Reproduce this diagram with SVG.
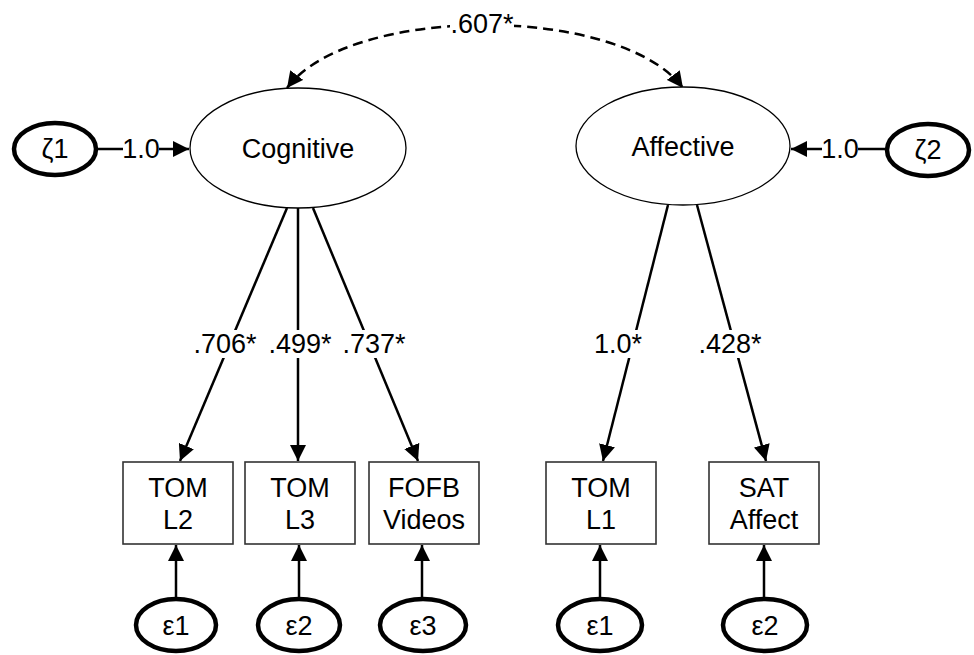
<svg xmlns="http://www.w3.org/2000/svg" width="974" height="655" viewBox="0 0 974 655">
<style>
text{font-family:"Liberation Sans",Arial,sans-serif;font-size:27px;fill:#000;text-anchor:middle}
.lat{fill:#fff;stroke:#000;stroke-width:1.3}
.err{fill:#fff;stroke:#000;stroke-width:4.5}
.box{fill:#fff;stroke:#333;stroke-width:1.6}
.edge{fill:none;stroke:#000;stroke-width:2.5}
.dash{fill:none;stroke:#000;stroke-width:2.5;stroke-dasharray:10 6}
.bg{fill:#fff;stroke:none}
</style>
<defs>
<marker id="ah" viewBox="0 0 10 10" refX="10" refY="5" markerWidth="6.5" markerHeight="6.5" orient="auto-start-reverse" markerUnits="strokeWidth">
<path d="M0,0 L10,5 L0,10 z" fill="#000"/>
</marker>
</defs>
<rect width="974" height="655" fill="#fff"/>
<g id="connectors">
<path class="dash" d="M287,88 C350,4 620,4 683,88" marker-start="url(#ah)" marker-end="url(#ah)"/>
<line class="edge" x1="97" y1="149" x2="189" y2="149" marker-end="url(#ah)"/>
<line class="edge" x1="886" y1="149" x2="791" y2="149" marker-end="url(#ah)"/>
<line class="edge" x1="287" y1="208" x2="180" y2="461" marker-end="url(#ah)"/>
<line class="edge" x1="298" y1="208" x2="298" y2="461" marker-end="url(#ah)"/>
<line class="edge" x1="313" y1="208" x2="418" y2="461" marker-end="url(#ah)"/>
<line class="edge" x1="668" y1="205" x2="603" y2="461" marker-end="url(#ah)"/>
<line class="edge" x1="697" y1="205" x2="766" y2="461" marker-end="url(#ah)"/>
<line class="edge" x1="176" y1="598" x2="176" y2="545" marker-end="url(#ah)"/>
<line class="edge" x1="299" y1="598" x2="299" y2="545" marker-end="url(#ah)"/>
<line class="edge" x1="422" y1="598" x2="422" y2="545" marker-end="url(#ah)"/>
<line class="edge" x1="600" y1="598" x2="600" y2="545" marker-end="url(#ah)"/>
<line class="edge" x1="764" y1="598" x2="764" y2="545" marker-end="url(#ah)"/>
<rect class="bg" x="450" y="10" width="64" height="28"/>
<rect class="bg" x="123" y="136" width="36" height="26"/>
<rect class="bg" x="822" y="136" width="36" height="26"/>
<rect class="bg" x="192" y="330" width="66" height="28"/>
<rect class="bg" x="267" y="330" width="66" height="28"/>
<rect class="bg" x="341" y="330" width="66" height="28"/>
<rect class="bg" x="593" y="330" width="50" height="28"/>
<rect class="bg" x="697" y="330" width="66" height="28"/>
<text x="482" y="33">.607*</text>
<text x="141" y="158">1.0</text>
<text x="840" y="158">1.0</text>
<text x="225" y="353">.706*</text>
<text x="300" y="353">.499*</text>
<text x="374" y="353">.737*</text>
<text x="618" y="353">1.0*</text>
<text x="730" y="353">.428*</text>
</g>
<g id="cognitive"><ellipse class="lat" cx="298" cy="148" rx="108" ry="60"/><text x="298" y="158">Cognitive</text></g>
<g id="affective"><ellipse class="lat" cx="683" cy="146" rx="107" ry="59"/><text x="683" y="156">Affective</text></g>
<g id="zeta1"><ellipse class="err" cx="55" cy="149" rx="41" ry="26"/><text x="55" y="158">ζ1</text></g>
<g id="zeta2"><ellipse class="err" cx="928" cy="150" rx="41" ry="26"/><text x="928" y="159">ζ2</text></g>
<g id="tomL2"><rect class="box" x="123" y="462" width="110" height="82"/><text x="178" y="497">TOM</text><text x="178" y="529">L2</text></g>
<g id="tomL3"><rect class="box" x="245" y="462" width="110" height="82"/><text x="300" y="497">TOM</text><text x="300" y="529">L3</text></g>
<g id="fofb"><rect class="box" x="369" y="462" width="110" height="82"/><text x="424" y="497">FOFB</text><text x="424" y="529">Videos</text></g>
<g id="tomL1"><rect class="box" x="546" y="462" width="110" height="82"/><text x="601" y="497">TOM</text><text x="601" y="529">L1</text></g>
<g id="satAffect"><rect class="box" x="709" y="462" width="110" height="82"/><text x="764" y="497">SAT</text><text x="764" y="529">Affect</text></g>
<g id="eps1a"><ellipse class="err" cx="176" cy="625" rx="40" ry="26"/><text x="176" y="635">ε1</text></g>
<g id="eps2a"><ellipse class="err" cx="299" cy="625" rx="41" ry="26"/><text x="299" y="635">ε2</text></g>
<g id="eps3"><ellipse class="err" cx="423" cy="625" rx="43" ry="26"/><text x="423" y="635">ε3</text></g>
<g id="eps1b"><ellipse class="err" cx="600" cy="625" rx="42" ry="26"/><text x="600" y="635">ε1</text></g>
<g id="eps2b"><ellipse class="err" cx="765" cy="625" rx="42" ry="26"/><text x="765" y="635">ε2</text></g>
</svg>
